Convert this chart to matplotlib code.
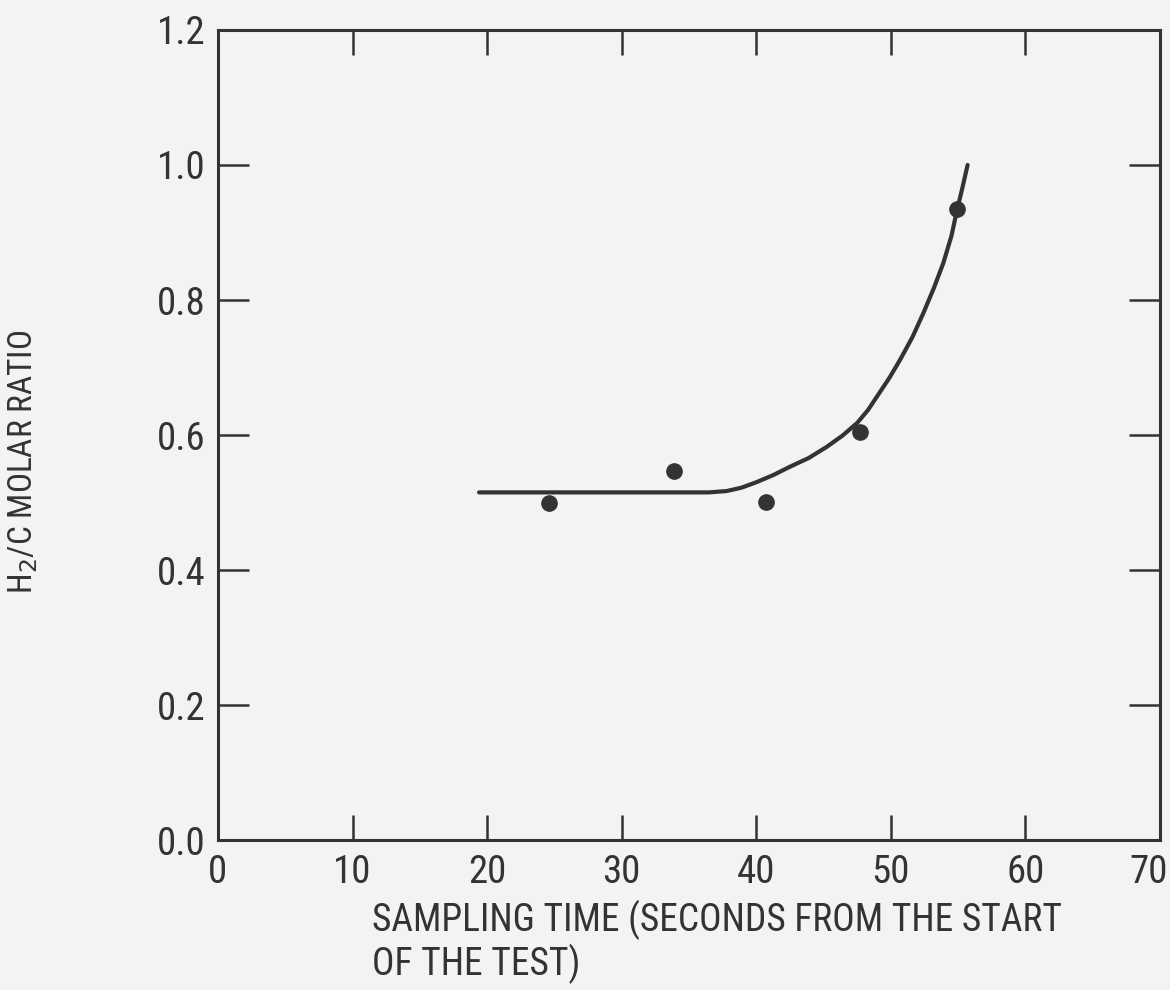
import matplotlib.pyplot as plt
import matplotlib.transforms as mtransforms
from matplotlib import font_manager

# measured data points
time_s = [24.6, 33.9, 40.7, 47.7, 54.9]
ratio = [0.500, 0.547, 0.501, 0.604, 0.935]

# hand-drawn fit curve
curve_t = [19.4, 36.5, 37.8, 38.9, 40.0, 41.3, 42.5, 43.9, 45.2, 46.4, 47.5, 48.3,
           49.0, 49.9, 50.7, 51.6, 52.4, 53.2, 53.9, 54.5, 54.9, 55.3, 55.7]
curve_r = [0.515, 0.515, 0.517, 0.522, 0.530, 0.541, 0.553, 0.566, 0.582, 0.599, 0.618, 0.637,
           0.658, 0.685, 0.712, 0.745, 0.780, 0.818, 0.855, 0.895, 0.932, 0.965, 1.0]

xticks = [0, 10, 20, 30, 40, 50, 60, 70]
yticks = [0.0, 0.2, 0.4, 0.6, 0.8, 1.0, 1.2]

ink = '#333333'
bg = '#f3f3f2'

# pick a narrow face if one is installed
installed = {f.name for f in font_manager.fontManager.ttflist}
font = [f for f in ['Roboto Condensed', 'Liberation Sans Narrow', 'Open Sans Condensed']
        if f in installed] + ['DejaVu Sans']
stretch = 'condensed'

fig = plt.figure(figsize=(11.7, 9.9), dpi=100, facecolor=bg)
ax = fig.add_axes([0.1863, 0.1515, 0.8052, 0.8182], facecolor=bg)

ax.plot(curve_t, curve_r, color=ink, lw=3, solid_capstyle='round', solid_joinstyle='round')
ax.plot(time_s, ratio, 'o', color=ink, markersize=11)

ax.set_xlim(0, 70)
ax.set_ylim(0, 1.2)
ax.set_xticks(xticks)
ax.set_yticks(yticks)
ax.set_xticklabels([str(t) for t in xticks], family=font, stretch=stretch,
                   fontsize=28, color=ink)
ax.set_yticklabels(['%.1f' % t for t in yticks], family=font, stretch=stretch,
                   fontsize=28, color=ink)

ax.tick_params(axis='x', direction='in', length=18, width=1.8, color=ink,
               top=True, pad=10)
ax.tick_params(axis='y', direction='in', length=22, width=1.8, color=ink,
               right=True, pad=9)
for s in ax.spines.values():
    s.set_linewidth(2.2)
    s.set_color(ink)

# last x label sits a bit inside the edge
last = ax.get_xticklabels()[-1]
last.set_transform(last.get_transform() +
                   mtransforms.ScaledTranslation(-8 / 72, 0, fig.dpi_scale_trans))

ax.set_ylabel('H$_2$/C MOLAR RATIO', family=font, stretch=stretch, fontsize=24, color=ink)
ax.yaxis.set_label_coords(-0.189, 0.467)
fig.text(0.318, 0.006, 'SAMPLING TIME (SECONDS FROM THE START\nOF THE TEST)',
         family=font, stretch=stretch, fontsize=27, color=ink,
         ha='left', va='bottom', linespacing=1.12)

fig.savefig('out.png', dpi=100, facecolor=bg)
